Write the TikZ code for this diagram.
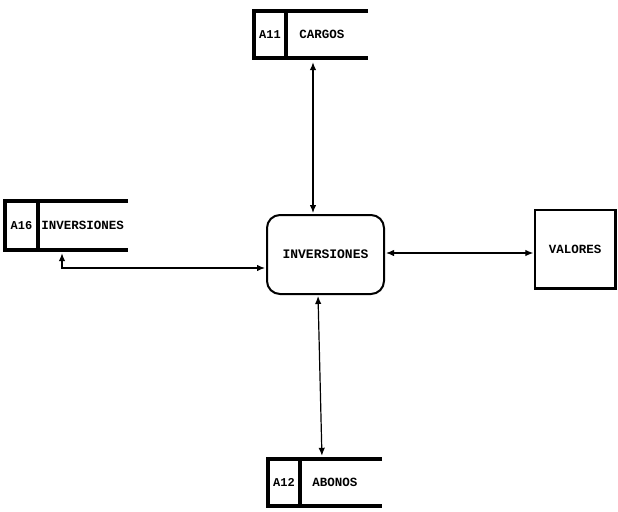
\documentclass[tikz,border=0pt]{standalone}
\usepackage{fontspec}
\newfontfamily\dmfont{Liberation Mono}
\usetikzlibrary{arrows.meta,calc}

\tikzset{
  store/.style = {minimum width=114pt, minimum height=47pt, inner sep=0pt},
  storeid/.style = {minimum width=32pt, minimum height=47pt, inner sep=0pt, anchor=west},
  storetext/.style = {font=\dmfont\bfseries\fontsize{12.5}{12.5}\selectfont, anchor=west, inner sep=0pt},
  idtext/.style = {font=\dmfont\bfseries\fontsize{12}{12}\selectfont, inner sep=0pt},
  rim/.style = {line width=3.5pt},
  link/.style = {line width=1.2pt, {Latex[length=8pt,width=6.5pt]}-{Latex[length=8pt,width=6.5pt]}},
}

\begin{document}
\begin{tikzpicture}[x=1pt,y=-1pt]
\useasboundingbox (0,0) rectangle (618,511);

% process and entity
\node[draw, line width=2pt, rounded corners=13pt, minimum width=117pt, minimum height=79pt,
  font=\dmfont\bfseries\fontsize{13}{13}\selectfont] (inv) at (325.5,254.5) {INVERSIONES};
\node[draw, line width=1.3pt, minimum width=80pt, minimum height=78pt,
  font=\dmfont\bfseries\fontsize{12.5}{12.5}\selectfont] (val) at (575,249) {VALORES};
\draw[line width=2.6pt] (val.south west) -- (val.south east) -- (val.north east);

% data stores
\node[store] (a11) at (311,34.5) {};
\node[storeid] (a11id) at (a11.west) {};
\node[storetext] (a11t) at ([xshift=13pt]a11id.east) {CARGOS};
\node[idtext] at (a11id.center) {A11};

\node[store, minimum width=123pt, minimum height=49pt] (a16) at (66.5,225.5) {};
\node[storeid, minimum width=33pt, minimum height=49pt] (a16id) at (a16.west) {};
\node[storetext] (a16t) at ([xshift=3pt]a16id.east) {INVERSIONES};
\node[idtext] at (a16id.center) {A16};

\node[store] (a12) at (325,482.5) {};
\node[storeid] (a12id) at (a12.west) {};
\node[storetext] (a12t) at ([xshift=12pt]a12id.east) {ABONOS};
\node[idtext] at (a12id.center) {A12};

\foreach \s in {a11,a16,a12} {
  \draw[rim] (\s.north east) -- (\s.north west) -- (\s.south west) -- (\s.south east);
  \draw[rim] (\s id.north east) -- (\s id.south east);
}

% flows
\draw[link, shorten <=4pt, shorten >=1pt] ([xshift=2pt]a11.south) -- ([xshift=2pt]a11.south |- inv.north);
\draw[link, shorten <=3pt, shorten >=1pt] ([xshift=-4.5pt]a16.south) |- ([yshift=-13.5pt]inv.west);
\draw[link, shorten <=1pt, shorten >=1pt] ([yshift=1.5pt]inv.east) -- ([yshift=1.5pt]inv.east -| val.west);
\draw[link, shorten <=1pt, shorten >=3pt] ([xshift=-7.5pt]inv.south) -- ([xshift=-3pt]a12.north);
\end{tikzpicture}
\end{document}
